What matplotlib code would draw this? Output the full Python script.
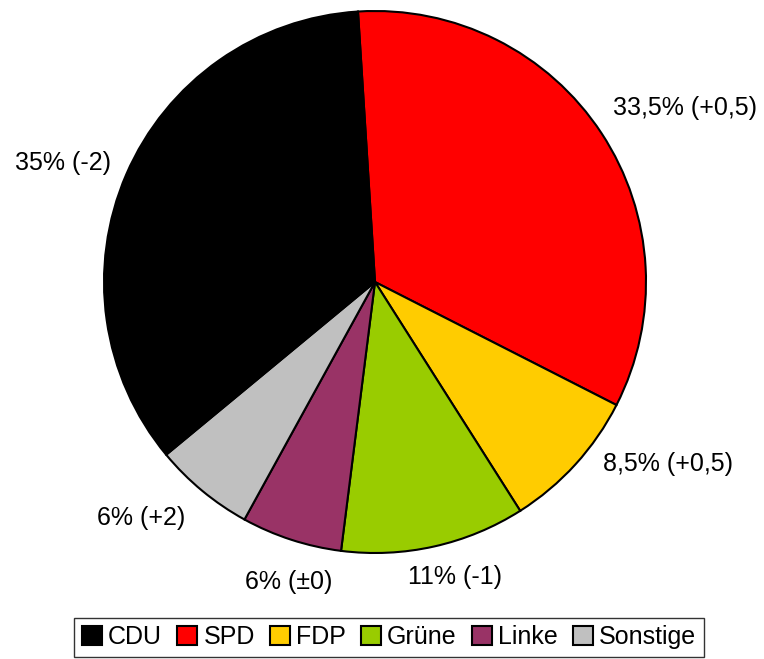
import matplotlib.pyplot as plt

parties = ["SPD", "FDP", "Grüne", "Linke", "Sonstige", "CDU"]
shares = [33.5, 8.5, 11, 6, 6, 35]
labels = ["33,5% (+0,5)", "8,5% (+0,5)", "11% (-1)", "6% (±0)", "6% (+2)", "35% (-2)"]
colors = ["#FF0000", "#FFCC00", "#99CC00", "#993366", "#C0C0C0", "#000000"]
legend_order = ["CDU", "SPD", "FDP", "Grüne", "Linke", "Sonstige"]

# label centres in units of the pie radius (layout only)
label_pos = [(1.144, 0.642), (1.081, -0.672), (0.295, -1.089),
             (-0.317, -1.107), (-0.863, -0.871), (-1.151, 0.439)]

plt.rcParams['font.family'] = ['Liberation Sans', 'DejaVu Sans']

W, H = 764, 659
fig = plt.figure(figsize=(W/100, H/100), dpi=100)
cx, cy, r = 375, 282, 271
ax = fig.add_axes([(cx-r)/W, (H-cy-r)/H, 2*r/W, 2*r/H])

wedges, texts = ax.pie(shares, labels=labels, colors=colors, startangle=93.6,
                       counterclock=False,
                       wedgeprops=dict(edgecolor='black', linewidth=1.5),
                       textprops=dict(fontsize=18))
for t, p in zip(texts, label_pos):
    t.set_position(p)
    t.set_ha('center')
    t.set_va('center')

ax.set_xlim(-1, 1)
ax.set_ylim(-1, 1)
ax.set_aspect('equal')

handles = [wedges[parties.index(p)] for p in legend_order]
leg = fig.legend(handles, legend_order, loc='center', ncol=6,
                 bbox_to_anchor=(389/W, 22/H), frameon=True, fancybox=False,
                 edgecolor='black', handlelength=0.8, handleheight=0.8,
                 handletextpad=0.25, columnspacing=0.6, borderpad=0.3,
                 prop=dict(size=18))
leg.get_frame().set_linewidth(1.0)

fig.savefig("out.png", dpi=100)
